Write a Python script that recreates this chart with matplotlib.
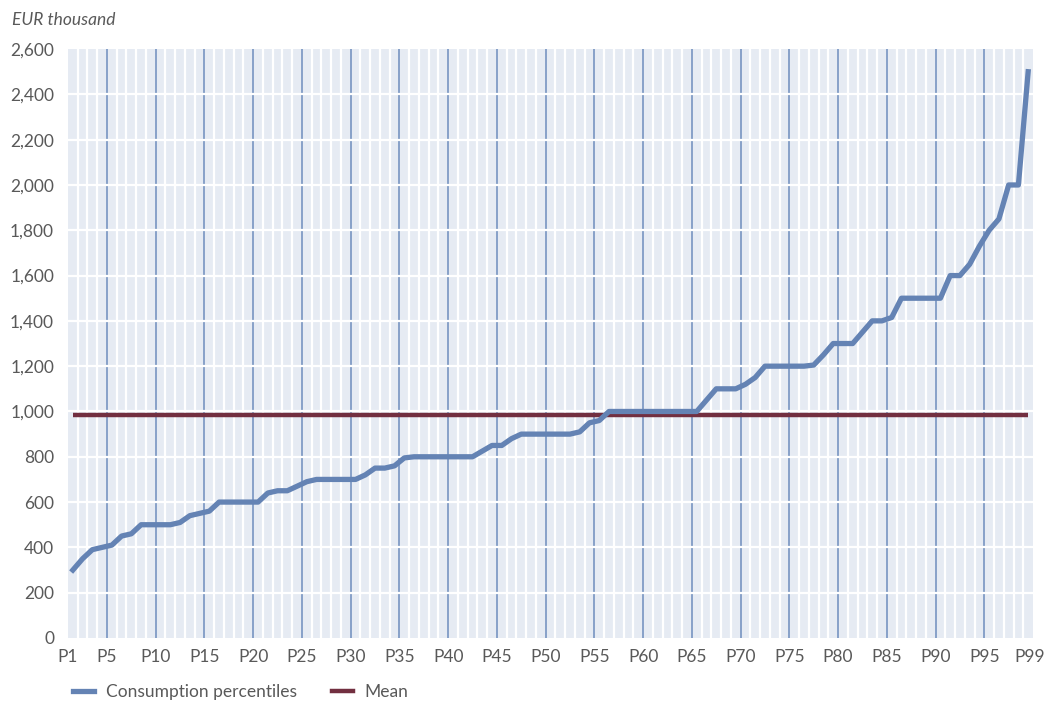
import numpy as np
import matplotlib.pyplot as plt
from matplotlib.lines import Line2D

plt.rcParams['font.family'] = ['Lato', 'DejaVu Sans']

# percentile values, EUR thousand
percentiles = list(range(1, 100))
consumption = [300, 350, 390, 400, 410, 450, 460, 500, 500, 500,
               500, 510, 540, 550, 560, 600, 600, 600, 600, 600,
               640, 650, 650, 670, 690, 700, 700, 700, 700, 700,
               720, 750, 750, 760, 795, 800, 800, 800, 800, 800,
               800, 800, 825, 850, 850, 880, 900, 900, 900, 900,
               900, 900, 910, 950, 960, 1000, 1000, 1000, 1000, 1000,
               1000, 1000, 1000, 1000, 1000, 1050, 1100, 1100, 1100, 1120,
               1150, 1200, 1200, 1200, 1200, 1200, 1205, 1250, 1300, 1300,
               1300, 1350, 1400, 1400, 1415, 1500, 1500, 1500, 1500, 1500,
               1600, 1600, 1650, 1730, 1800, 1850, 2000, 2000, 2500]
mean_value = 985
tick_labels = ['P1'] + ['P%d' % k for k in range(5, 100, 5)] + ['P99']
tick_pos = [0.5] + [k - 0.5 for k in range(5, 100, 5)] + [99.2]

text_col = '#595959'
line_col = '#6483b4'
mean_col = '#722f40'

fig = plt.figure(figsize=(10.46, 7.01), dpi=100)
ax = fig.add_axes([0.065, 0.0899, 0.9226, 0.8401])
ax.set_facecolor('#e6ebf3')

# white boundaries between percentiles, darker every fifth
for k in range(1, 99):
    b = k + 0.5
    if (k + 1) % 5 == 0:
        ax.axvline(b, color='#7f9bc5', lw=1.3, zorder=1)
    else:
        ax.axvline(b, color='white', lw=1.6, zorder=1)
for y in range(200, 2600, 200):
    ax.axhline(y, color='white', lw=1.6, zorder=1)

ax.plot(percentiles, [mean_value] * len(percentiles), color=mean_col, lw=3.2,
        solid_capstyle='butt', zorder=3)
ax.plot(percentiles, consumption, color=line_col, lw=3.8, zorder=4)

ax.set_xlim(0.5, 99.5)
ax.set_ylim(0, 2600)
ax.set_yticks(range(0, 2601, 200))
ax.set_yticklabels(['{:,}'.format(v) for v in range(0, 2601, 200)])
ax.set_xticks(tick_pos)
ax.set_xticklabels(tick_labels)
ax.tick_params(length=0, labelsize=12.5, colors=text_col, pad=10)
ax.tick_params(axis='x', pad=8)
for s in ax.spines.values():
    s.set_visible(False)

fig.text(0.011, 0.972, 'EUR thousand', fontsize=12.5, style='italic',
         color=text_col, va='center', ha='left')

handles = [Line2D([], [], color=line_col, lw=3.8),
           Line2D([], [], color=mean_col, lw=3.2)]
fig.legend(handles, ['Consumption percentiles', 'Mean'], loc='center left',
           bbox_to_anchor=(0.055, 0.013), ncol=2, frameon=False,
           fontsize=12.5, labelcolor=text_col, handlelength=1.2,
           handletextpad=0.7, columnspacing=2.0)

fig.savefig('out.png', dpi=100)
